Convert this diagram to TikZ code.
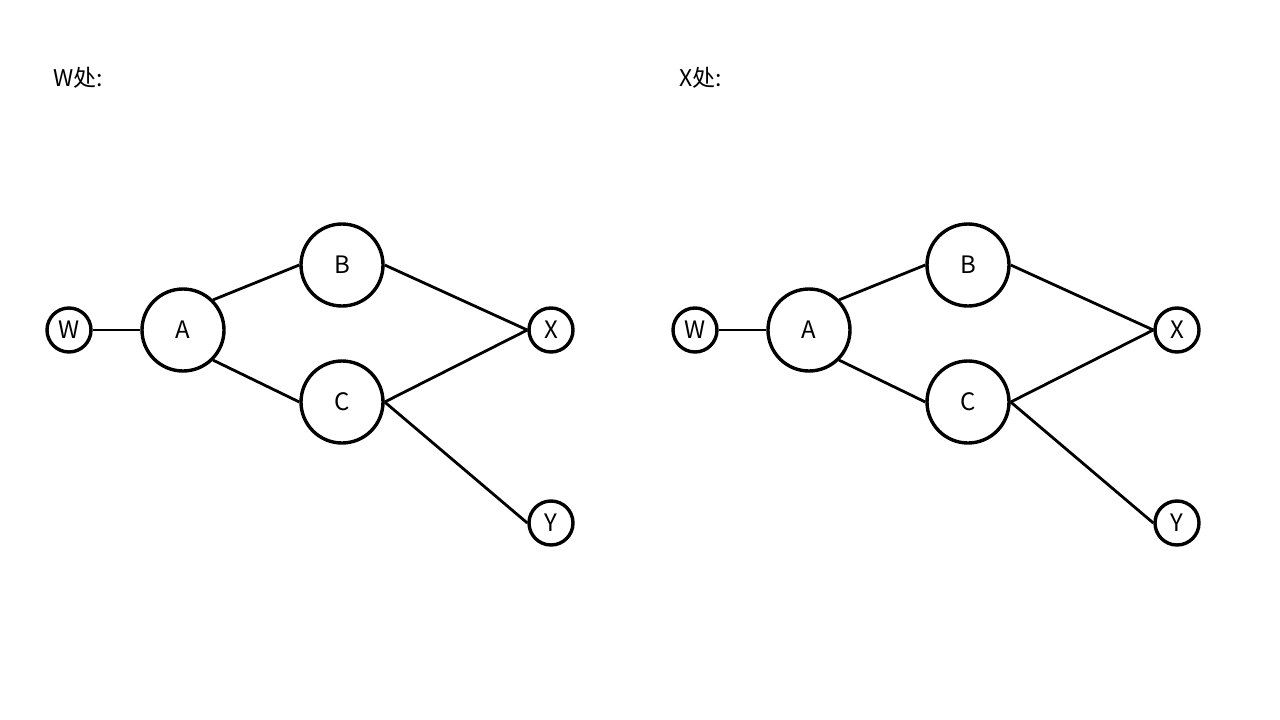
\documentclass[tikz,border=0pt]{standalone}
\usepackage{fontspec}
\setmainfont{Noto Sans CJK SC}
\begin{document}
\begin{tikzpicture}[x=1pt,y=-1pt,
  big/.style={circle,draw,line width=3.4pt,minimum size=82pt,inner sep=0pt,font=\fontsize{24}{26}\selectfont},
  small/.style={circle,draw,line width=3.4pt,minimum size=44pt,inner sep=0pt,font=\fontsize{24}{26}\selectfont},
  edge/.style={line width=2.8pt},
  heading/.style={anchor=base west,inner sep=0pt,font=\fontsize{23}{26}\selectfont}]
\useasboundingbox (0,0) rectangle (1280,720);
\foreach \dx/\p/\t in {0/l/W, 626/r/X}{
  \node[heading] (\p h) at (53+\dx,86) {\t 处:};
  \node[small] (\p W) at (69+\dx,330) {W};
  \node[big] (\p A) at (183+\dx,330) {A};
  \node[big] (\p B) at (342+\dx,265) {B};
  \node[big] (\p C) at (342+\dx,402) {C};
  \node[small] (\p X) at (551+\dx,330) {X};
  \node[small] (\p Y) at (551+\dx,523) {Y};
  \draw[edge] (\p W.east) -- (\p A.west);
  \draw[edge] (\p A.north east) -- (\p B.west);
  \draw[edge] (\p A.south east) -- (\p C.west);
  \draw[edge] (\p B.east) -- (\p X.west);
  \draw[edge] (\p C.east) -- (\p X.west);
  \draw[edge] (\p C.east) -- (\p Y.west);
}
\end{tikzpicture}
\end{document}
